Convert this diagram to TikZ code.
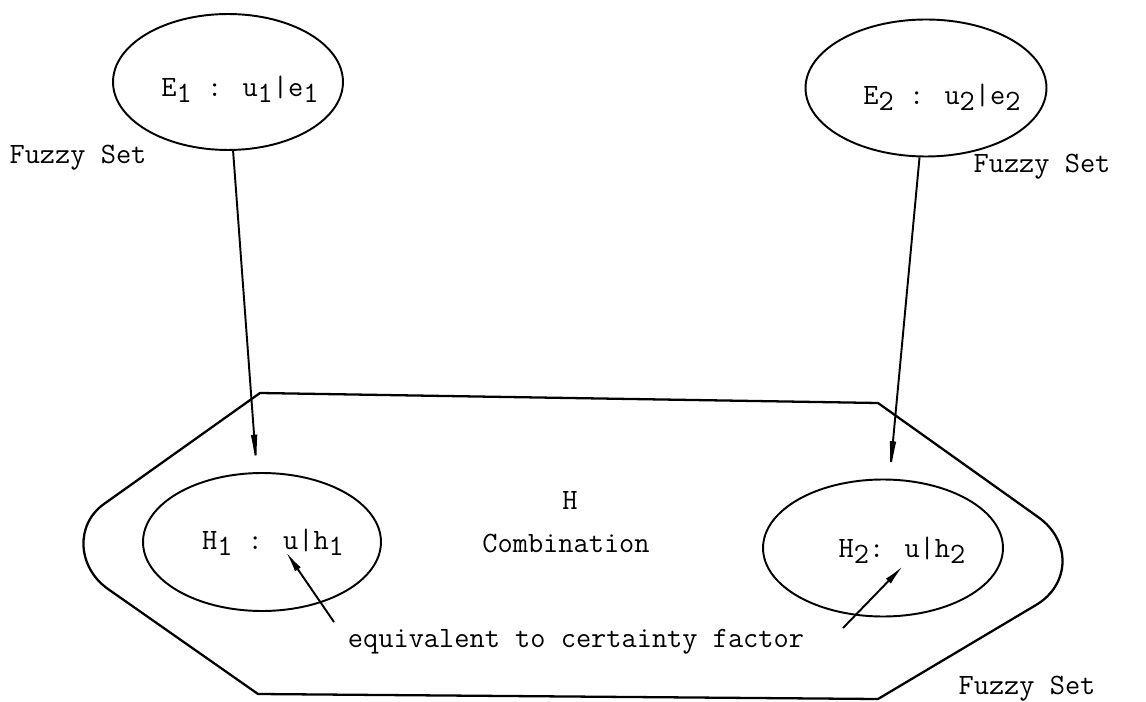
\documentclass[tikz,border=0pt]{standalone}
\usetikzlibrary{shapes.geometric,arrows.meta}
\newcommand{\lo}[1]{\raisebox{-0.45ex}{#1}}
\begin{document}
\begin{tikzpicture}[x=0.02cm,y=-0.02cm,
  every node/.style={font=\fontsize{16.8}{20}\selectfont\ttfamily, inner sep=0pt},
  oval/.style={draw, ellipse, line width=1.1pt, inner sep=0pt},
  hull/.style={draw, line width=1.3pt, line join=round},
  longarrow/.style={-{Latex[length=0.75cm,width=0.13cm]}, line width=1.1pt},
  shortarrow/.style={-{Latex[length=0.42cm,width=0.14cm]}, line width=1.1pt}]
\useasboundingbox (0,0) rectangle (1146,702);
% combination region
\draw[hull] (260,393) -- (878,403) -- (1038,517)
  .. controls (1071.5,540.5) and (1070.5,584.5) .. (1036,605)
  -- (878,699) -- (258,694) -- (108,589)
  .. controls (77,567) and (75,524.5) .. (104,504) -- cycle;
% ellipses
\node[oval, minimum width=4.6cm, minimum height=2.72cm] (e1) at (228,82) {};
\node[oval, minimum width=4.82cm, minimum height=2.74cm] (e2) at (926,88) {};
\node[oval, minimum width=4.76cm, minimum height=2.76cm] (h1) at (262,542) {};
\node[oval, minimum width=4.8cm, minimum height=2.74cm] (h2) at (883,548) {};
% texts
\node (e1t) at (240,89) {E\lo{1} : u\lo{1}|e\lo{1}};
\node (e2t) at (942,97) {E\lo{2} : u\lo{2}|e\lo{2}};
\node (h1t) at (273,542) {H\lo{1} : u|h\lo{1}};
\node (h2t) at (902,550) {H\lo{2}: u|h\lo{2}};
\node (hh) at (570,500) {H};
\node (comb) at (566,543) {Combination};
\node (eq) at (576,642) {equivalent to certainty factor};
\node (fs1) at (78,158) {Fuzzy Set};
\node (fs2) at (1042,167) {Fuzzy Set};
\node (fs3) at (1027,689) {Fuzzy Set};
% connectors
\draw[longarrow] (e1) -- (h1);
\draw[longarrow] (e2) -- (h2);
\coordinate (c1) at (334,622);
\coordinate (p1) at (286,552);
\coordinate (c2) at (843,628);
\coordinate (p2) at (903,566);
\draw[shortarrow] (c1) -- (p1);
\draw[shortarrow] (c2) -- (p2);
\end{tikzpicture}
\end{document}
